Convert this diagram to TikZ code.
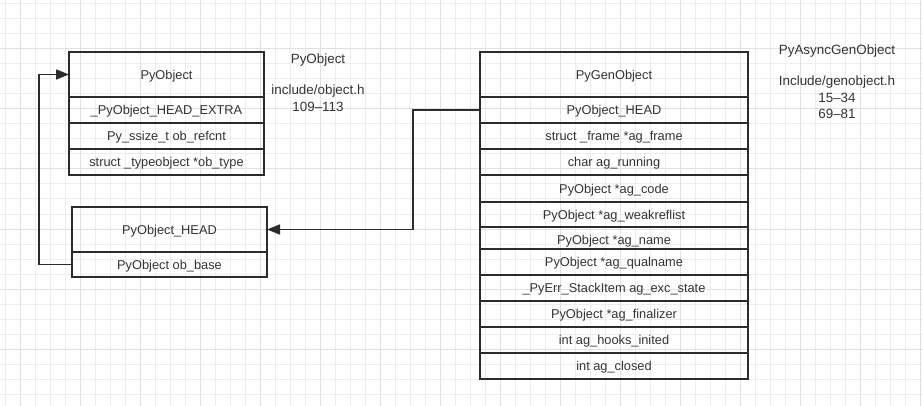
\documentclass[tikz,border=0pt]{standalone}
\usepackage{fontspec}
\setmainfont{Liberation Sans}
\usetikzlibrary{arrows.meta}
\definecolor{minorg}{HTML}{EDEDED}
\definecolor{majorg}{HTML}{E0E0E0}
\definecolor{ink}{HTML}{2B2B2B}
\definecolor{txt}{HTML}{333333}
\begin{document}
\begin{tikzpicture}[x=1pt,y=-1pt,
  cell/.style={draw=ink, line width=2pt, rectangle, anchor=north west, inner sep=0pt, outer sep=0pt,
    text=txt, font=\fontsize{12.8}{15}\selectfont, text height=9.2pt, text depth=-0.5pt},
  lbl/.style={text=txt, font=\fontsize{13.4}{16.5}\selectfont, align=center, inner sep=0pt, anchor=north},
  arr/.style={draw=ink, line width=1.6pt, -{Triangle[length=13pt,width=10pt]}}]
\fill[white] (0,0) rectangle (923,406);
\useasboundingbox (0,0) rectangle (923,406);
% grid
\foreach \k in {0,...,61} {\draw[minorg, line width=1pt] (5+15*\k,0) -- (5+15*\k,406);}
\foreach \k in {0,...,26} {\draw[minorg, line width=1pt] (0,4+15*\k) -- (923,4+15*\k);}
\foreach \k in {1,5,...,61} {\draw[majorg, line width=1pt] (5+15*\k,0) -- (5+15*\k,406);}
\foreach \k in {3,7,...,26} {\draw[majorg, line width=1pt] (0,4+15*\k) -- (923,4+15*\k);}
% PyObject struct
\node[cell, minimum width=195pt, minimum height=45pt] (po) at (69,52) {PyObject};
\node[cell, minimum width=195pt, minimum height=26pt] (pe) at (69,97) {\_PyObject\_HEAD\_EXTRA};
\node[cell, minimum width=195pt, minimum height=26pt] (pr) at (69,123) {Py\_ssize\_t ob\_refcnt};
\node[cell, minimum width=195pt, minimum height=26pt] (pt) at (69,149) {struct \_typeobject *ob\_type};
% PyObject_HEAD
\node[cell, minimum width=195pt, minimum height=45pt] (hh) at (72,207) {PyObject\_HEAD};
\node[cell, minimum width=195pt, minimum height=25pt] (ob) at (72,252) {PyObject ob\_base};
% PyGenObject struct
\node[cell, minimum width=268pt, minimum height=45pt] (gh) at (480,52) {PyGenObject};
\node[cell, minimum width=268pt, minimum height=26pt] (g1) at (480,97) {PyObject\_HEAD};
\node[cell, minimum width=268pt, minimum height=26pt] (g2) at (480,123) {struct \_frame *ag\_frame};
\node[cell, minimum width=268pt, minimum height=26pt] (g3) at (480,149) {char ag\_running};
\node[cell, minimum width=268pt, minimum height=27pt] (g4) at (480,175) {PyObject *ag\_code};
\node[cell, minimum width=268pt, minimum height=25pt] (g5) at (480,202) {PyObject *ag\_weakreflist};
\node[cell, minimum width=268pt, minimum height=22pt, text height=13pt, text depth=0pt] (g6) at (480,227) {PyObject *ag\_name};
\node[cell, minimum width=268pt, minimum height=26pt] (g7) at (480,249) {PyObject *ag\_qualname};
\node[cell, minimum width=268pt, minimum height=26pt] (g8) at (480,275) {\_PyErr\_StackItem ag\_exc\_state};
\node[cell, minimum width=268pt, minimum height=26pt] (g9) at (480,301) {PyObject *ag\_finalizer};
\node[cell, minimum width=268pt, minimum height=26pt] (g10) at (480,327) {int ag\_hooks\_inited};
\node[cell, minimum width=268pt, minimum height=26pt] (g11) at (480,353) {int ag\_closed};
% labels
\node[lbl] (l1) at (318,54) {PyObject};
\node[lbl] (l2) at (318,85) {include/object.h\\109–113};
\node[lbl] (l3) at (837,45) {PyAsyncGenObject};
\node[lbl] (l4) at (837,76) {Include/genobject.h\\15–34\\69–81};
% connectors
\coordinate (c1) at (413,110);
\draw[arr] (g1.west) -- (g1.west -| c1) |- (hh.east);
\coordinate (c2) at (39,265);
\draw[arr] (ob.west) -- (ob.west -| c2) |- (po.west);
\end{tikzpicture}
\end{document}
